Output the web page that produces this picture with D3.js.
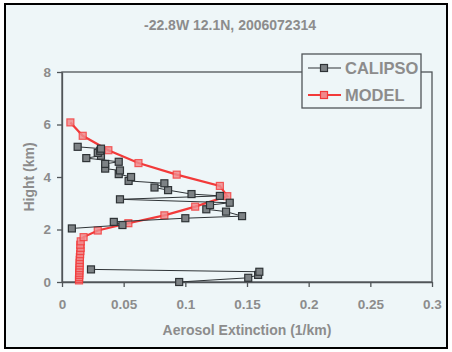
<!DOCTYPE html>
<html>
<head>
<meta charset="utf-8">
<script src="https://cdn.jsdelivr.net/npm/d3@7"></script>
<style>
  body { margin: 0; background: #fff; }
  svg { display: block; font-family: "Liberation Sans", Arial, sans-serif; }
</style>
</head>
<body>
<svg id="chart" width="452" height="352"></svg>
<script>
// --- DATA ---
const titleText = "-22.8W  12.1N, 2006072314";
const xTicks = [0, 0.05, 0.1, 0.15, 0.2, 0.25, 0.3];
const yTicks = [0, 2, 4, 6, 8];

// CALIPSO profile (null = missing level, gap in line)
const calipsoHeight = [0.00, 0.16, 0.27, 0.39, 0.48, null,
  2.04, 2.17, 2.29, 2.43, 2.51, 2.68, 2.77, 2.93, 3.02, 3.15, 3.28, 3.35, 3.50, 3.60,
  3.76, 3.85, 4.00, 4.11, 4.25, 4.32, 4.50, 4.58, 4.72, 4.81, 4.92, 5.00, 5.08, 5.15];
const calipsoExt = [0.095, 0.151, 0.159, 0.160, 0.0235, null,
  0.008, 0.049, 0.042, 0.100, 0.146, 0.133, 0.117, 0.120, 0.136, 0.047, 0.128, 0.105, 0.086, 0.075,
  0.083, 0.054, 0.056, 0.046, 0.047, 0.035, 0.035, 0.046, 0.0197, 0.0316, 0.029, 0.031, 0.0316, 0.0127];

// MODEL profile
const modelHeight = [0.06, 0.12, 0.19, 0.27, 0.35, 0.44, 0.53, 0.63, 0.73, 0.84, 0.95, 1.06,
  1.18, 1.30, 1.42, 1.55, 1.71, 1.96, 2.24, 2.54, 2.87, 3.27, 3.66, 4.09, 4.53, 5.02, 5.57, 6.08];
const modelExt = [0.0138, 0.0138, 0.0139, 0.0140, 0.0140, 0.0141, 0.0142, 0.0143, 0.0143, 0.0144, 0.0145, 0.0147,
  0.0149, 0.0151, 0.0148, 0.0152, 0.0175, 0.029, 0.0538, 0.083, 0.108, 0.134, 0.128, 0.093, 0.062, 0.0376, 0.0168, 0.0068];

// --- SETUP ---
const svg = d3.select("#chart");
const textColor = "#8c8c8c";
const bg = "#eef6f8";

svg.append("rect")
  .attr("x", 5).attr("y", 4).attr("width", 442).attr("height", 344)
  .attr("fill", bg).attr("stroke", "#000").attr("stroke-width", 2);

const x = d3.scaleLinear().domain([0, 0.3]).range([62, 432]);
const y = d3.scaleLinear().domain([0, 8]).range([282, 72]);

// plot frame
svg.append("rect")
  .attr("x", x(0)).attr("y", y(8))
  .attr("width", x(0.3) - x(0)).attr("height", y(0) - y(8))
  .attr("fill", "none").attr("stroke", "#505558").attr("stroke-width", 1.3);

// axes
const xAxis = svg.append("g").attr("transform", `translate(0,${y(0)})`)
  .call(d3.axisBottom(x).tickValues(xTicks).tickSize(5).tickSizeOuter(0).tickPadding(12).tickFormat(d3.format("~g")));
const yAxis = svg.append("g").attr("transform", `translate(${x(0)},0)`)
  .call(d3.axisLeft(y).tickValues(yTicks).tickSize(5).tickSizeOuter(0).tickPadding(6));
[xAxis, yAxis].forEach(a => {
  a.select(".domain").attr("stroke", "#505558").attr("stroke-width", 1.3);
  a.selectAll(".tick line").attr("stroke", "#505558").attr("stroke-width", 1.3);
  a.selectAll("text").attr("fill", textColor).style("font-size", "13.5px").style("font-weight", "bold")
    .style("font-family", "Liberation Sans, Arial, sans-serif");
});

// titles
svg.append("text").attr("x", 230).attr("y", 30).attr("text-anchor", "middle")
  .attr("fill", textColor).style("font-size", "14px").style("font-weight", "bold").text(titleText);
svg.append("text").attr("x", 247).attr("y", 335).attr("text-anchor", "middle")
  .attr("fill", textColor).style("font-size", "14px").style("font-weight", "bold").text("Aerosol Extinction (1/km)");
svg.append("text").attr("transform", "translate(34,177) rotate(-90)").attr("text-anchor", "middle")
  .attr("fill", textColor).style("font-size", "14px").style("font-weight", "bold").text("Hight (km)");

// --- SERIES ---
const calipso = calipsoHeight.map((h, i) => ({ h, v: calipsoExt[i] }));
const model = modelHeight.map((h, i) => ({ h, v: modelExt[i] }));

const line = d3.line()
  .defined(d => d.h !== null)
  .x(d => x(d.v)).y(d => y(d.h));

svg.append("path").datum(model).attr("d", line)
  .attr("fill", "none").attr("stroke", "#f23a3a").attr("stroke-width", 2.2);
svg.append("g").selectAll("rect").data(model).join("rect")
  .attr("x", d => x(d.v) - 3.5).attr("y", d => y(d.h) - 3.5)
  .attr("width", 7).attr("height", 7)
  .attr("fill", "#f08a8c").attr("fill-opacity", 0.85)
  .attr("stroke", "#f23a3a").attr("stroke-opacity", 0.8).attr("stroke-width", 1.2);

svg.append("path").datum(calipso).attr("d", line)
  .attr("fill", "none").attr("stroke", "#2e3336").attr("stroke-width", 1);
svg.append("g").selectAll("rect").data(calipso.filter(d => d.h !== null)).join("rect")
  .attr("x", d => x(d.v) - 3.5).attr("y", d => y(d.h) - 3.5)
  .attr("width", 7).attr("height", 7)
  .attr("fill", "#7d8285").attr("stroke", "#2e3336").attr("stroke-width", 1.2);

// --- LEGEND ---
const lg = svg.append("g");
lg.append("rect").attr("x", 302).attr("y", 54).attr("width", 119).attr("height", 54)
  .attr("fill", bg).attr("stroke", "#505558").attr("stroke-width", 1.3);
const legendItems = [
  { name: "CALIPSO", y: 68, stroke: "#2e3336", fill: "#7d8285", w: 1 },
  { name: "MODEL", y: 95, stroke: "#f23a3a", fill: "#f08a8c", w: 2.2 }
];
legendItems.forEach(it => {
  lg.append("line").attr("x1", 308).attr("x2", 341).attr("y1", it.y).attr("y2", it.y)
    .attr("stroke", it.stroke).attr("stroke-width", it.w);
  lg.append("rect").attr("x", 320.5).attr("y", it.y - 3.5).attr("width", 7).attr("height", 7)
    .attr("fill", it.fill).attr("stroke", it.stroke).attr("stroke-width", 1.2);
  lg.append("text").attr("x", 345).attr("y", it.y + 6).attr("fill", textColor)
    .style("font-size", "16.5px").style("font-weight", "bold").text(it.name);
});
</script>
</body>
</html>
